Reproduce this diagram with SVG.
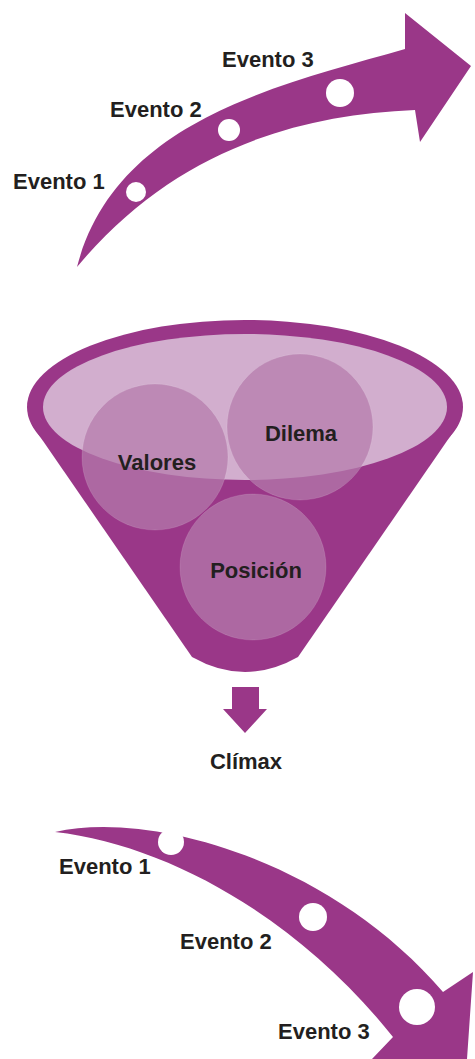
<svg xmlns="http://www.w3.org/2000/svg" width="475" height="1059" viewBox="0 0 475 1059">
<style>
.p{fill:#9a3788}
.dot{fill:#ffffff}
.t{font-family:"Liberation Sans",Arial,sans-serif;font-weight:bold;font-size:22px;fill:#231f20}
.c{fill:#b47bac;fill-opacity:0.72;stroke:#ffffff;stroke-opacity:0.12;stroke-width:1}
</style>
<g id="top-arrow">
<path class="p" d="M77,267 C115,120 280,85 405,49 L405,13 L471,66 L420,142 L415,110 C290,115 170,155 77,267 Z"/>
<circle class="dot" cx="136" cy="192" r="10"/>
<circle class="dot" cx="229" cy="130" r="11"/>
<circle class="dot" cx="340" cy="93" r="14"/>
<text class="t" x="13" y="189">Evento 1</text>
<text class="t" x="110" y="117">Evento 2</text>
<text class="t" x="222" y="67">Evento 3</text>
</g>
<g id="funnel">
<ellipse class="p" cx="245" cy="407" rx="218" ry="87"/>
<path class="p" d="M32,425 L192,657 Q245,687 298,657 L458,425 Z"/>
<ellipse cx="245" cy="407" rx="202" ry="73" fill="#d2aece"/>
</g>
<g id="valores">
<circle class="c" cx="155" cy="457" r="73"/>
<text class="t" x="157" y="470" text-anchor="middle">Valores</text>
</g>
<g id="dilema">
<circle class="c" cx="300" cy="427" r="73"/>
<text class="t" x="301" y="441" text-anchor="middle">Dilema</text>
</g>
<g id="posicion">
<circle class="c" cx="253" cy="567" r="73"/>
<text class="t" x="256" y="578" text-anchor="middle">Posición</text>
</g>
<g id="connectors">
<path class="p" d="M232,687 L259,687 L259,709 L267,709 L245,733 L223,709 L232,709 Z"/>
</g>
<g id="climax">
<text class="t" x="246" y="769" text-anchor="middle">Clímax</text>
</g>
<g id="bottom-arrow">
<path class="p" d="M55,832 C150,810 330,860 443,992 L473,972 L467,1059 L372,1059 L393,1037 C300,920 170,845 55,832 Z"/>
<circle class="dot" cx="171" cy="842" r="13"/>
<circle class="dot" cx="313" cy="917" r="14"/>
<circle class="dot" cx="417" cy="1007" r="18"/>
<text class="t" x="59" y="874">Evento 1</text>
<text class="t" x="180" y="949">Evento 2</text>
<text class="t" x="278" y="1039">Evento 3</text>
</g>
</svg>
